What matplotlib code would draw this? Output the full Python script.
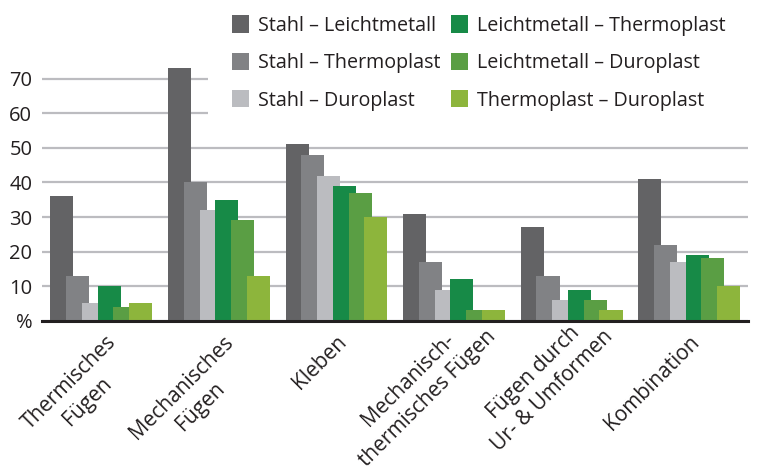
# grouped bar chart: joining methods per material pairing

import numpy as np
import matplotlib.pyplot as plt
from matplotlib.patches import Patch
from matplotlib.transforms import ScaledTranslation

plt.rcParams['font.family'] = ['Open Sans', 'DejaVu Sans']

categories = ['Thermisches\nFügen', 'Mechanisches\nFügen', 'Kleben',
              'Mechanisch-\nthermisches Fügen', 'Fügen durch\nUr- & Umformen',
              'Kombination']
series = ['Stahl – Leichtmetall', 'Stahl – Thermoplast', 'Stahl – Duroplast',
          'Leichtmetall – Thermoplast', 'Leichtmetall – Duroplast',
          'Thermoplast – Duroplast']
values = [
    [36, 73, 51, 31, 27, 41],
    [13, 40, 48, 17, 13, 22],
    [5, 32, 42, 9, 6, 17],
    [10, 35, 39, 12, 9, 19],
    [4, 29, 37, 3, 6, 18],
    [5, 13, 30, 3, 3, 10],
]
colors = ['#636365', '#818285', '#bbbcc0', '#178a47', '#5a9e44', '#8db53c']
yticks = [0, 10, 20, 30, 40, 50, 60, 70]
ytick_labels = ['%', '10', '20', '30', '40', '50', '60', '70']

fig = plt.figure(figsize=(7.62, 4.70), dpi=100)
ax = fig.add_axes([0.0551, 0.3177, 0.9265, 0.6])

x = np.arange(len(categories))
step = 0.134
width = 0.196
for i, (vals, col) in enumerate(zip(values, colors)):
    ax.bar(x + (i - 2.5) * step, vals, width=width, color=col, zorder=2 + i)

ax.set_xlim(-0.505, 5.5)
ax.set_ylim(0, 81.6)
ax.set_yticks(yticks)
ax.set_yticklabels(ytick_labels, fontsize=14.5, color='#231f20')
ax.yaxis.grid(True, color='#bcbcc0', linewidth=1.6, zorder=0)
ax.set_axisbelow(True)
for s in ['top', 'right', 'left']:
    ax.spines[s].set_visible(False)
ax.spines['bottom'].set_color('#231f20')
ax.spines['bottom'].set_linewidth(2.2)
ax.spines['bottom'].set_zorder(20)
ax.tick_params(axis='y', length=0, pad=7)
ax.tick_params(axis='x', length=0, pad=0)

ax.set_xticks(x)
labels = ax.set_xticklabels(categories, fontsize=15, color='#231f20',
                            rotation=45, ha='right', va='top',
                            rotation_mode='anchor', multialignment='center',
                            linespacing=1.35)
# labels whose second line is the longer one hang further right and up
for lab, name in zip(labels, categories):
    lines = name.split('\n')
    if len(lines) == 2 and len(lines[1]) > len(lines[0]):
        dx, dy = 12, 13
    elif len(lines) == 2:
        dx, dy = 4, -11
    else:
        dx, dy = 0, -11
    lab.set_transform(lab.get_transform() +
                      ScaledTranslation(dx / 100, dy / 100, fig.dpi_scale_trans))

# opaque legend box hides the upper gridlines behind it
handles = [Patch(facecolor=c, edgecolor='none') for c in colors]
leg = fig.legend(handles, series, loc='upper left',
                 bbox_to_anchor=(208 / 762, 1.018), ncol=2, fontsize=14.2,
                 frameon=True, facecolor='white', edgecolor='none',
                 framealpha=1, fancybox=False, handlelength=0.87,
                 handleheight=0.97, handletextpad=0.45, columnspacing=0.55,
                 labelspacing=0.86, borderpad=1.21, borderaxespad=0)
for t in leg.get_texts():
    t.set_color('#231f20')

fig.savefig('out.png', dpi=100)
